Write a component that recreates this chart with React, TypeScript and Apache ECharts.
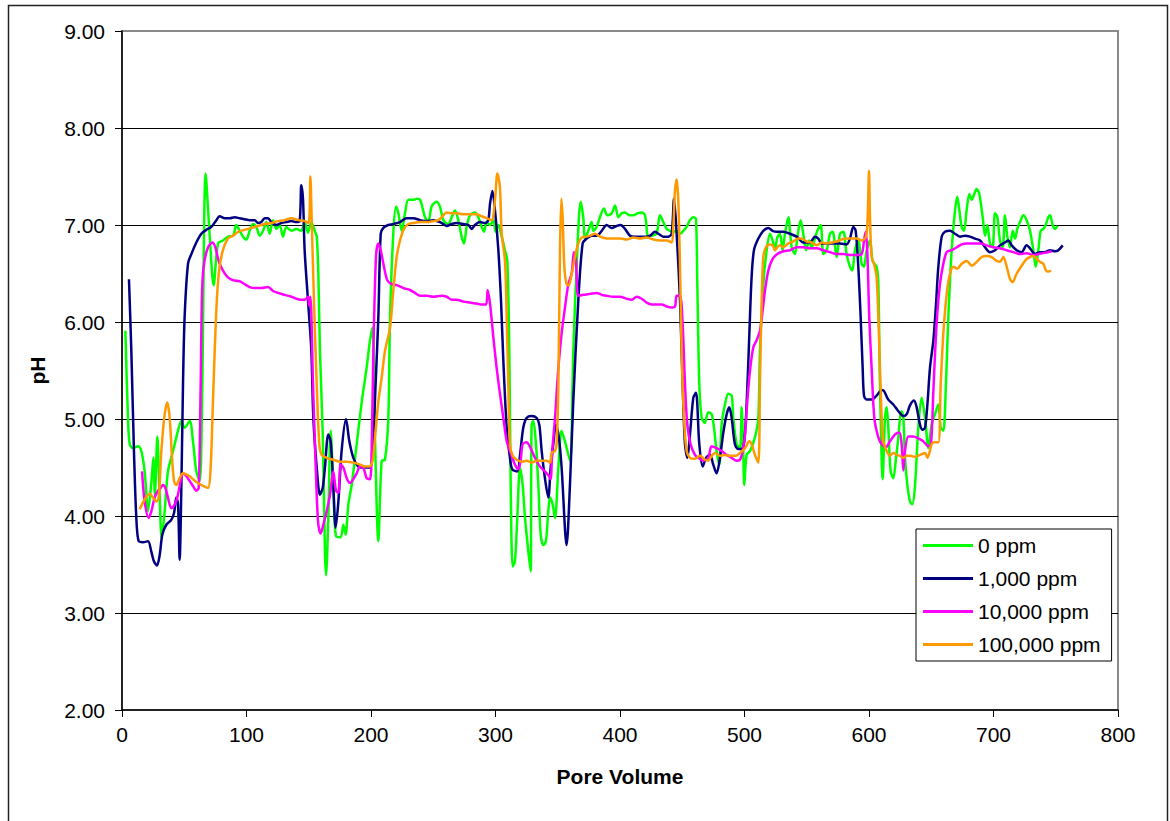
import React, { useEffect, useRef } from "react";
import * as echarts from "echarts";

const seriesNames = ["0 ppm", "1,000 ppm", "10,000 ppm", "100,000 ppm"];
const seriesColors = ["#00FF00", "#000080", "#FF00FF", "#FF9900"];
const xAxisTitle = "Pore Volume";
const yAxisTitle = "pH";

const ppm0: number[][] = [
  [2.7,5.91],[4.8,5.01],[6.2,4.74],[8.8,4.70],[12.9,4.72],[15.5,4.67],[18.2,4.46],[20.9,4.05],[23.6,4.35],[25.2,4.60],[26.4,4.22],[28.4,4.82],[30.0,4.3],[31.9,3.77],[34.3,4.05],[36.9,4.46],[41.0,4.67],[45.0,4.88],[47.7,4.98],[50.3,4.91],[54.4,4.98],[57.0,4.77],[59.7,4.46],[62.4,4.36],[64.3,5.2],[67.2,7.53],[70.4,6.9],[73.6,6.38],[77.1,6.81],[81.1,6.84],[85.1,6.88],[89.2,6.89],[91.8,7.00],[94.5,6.94],[97.2,6.88],[99.9,6.85],[102.5,6.94],[105.2,7.01],[107.9,6.98],[110.6,6.89],[113.3,6.94],[115.9,7.03],[118.6,6.91],[121.3,7.05],[124.0,6.96],[126.6,7.00],[129.3,6.88],[132.0,6.98],[136.0,6.94],[140.0,6.96],[144.0,6.94],[146.7,7.03],[149.4,6.92],[152.1,7.03],[154.8,6.94],[156.4,6.88],[157.7,6.5],[159.0,5.70],[161.2,4.86],[163.0,3.63],[163.9,3.39],[165.7,3.98],[167.6,4.88],[169.7,4.32],[171.9,3.79],[175.6,3.78],[177.8,3.91],[179.6,3.81],[181.8,4.12],[184.5,4.32],[188.5,4.74],[192.5,5.17],[196.5,5.53],[199.2,5.81],[201.3,5.94],[203.2,4.8],[205.9,3.74],[208.6,4.57],[211.2,4.58],[213.9,5.01],[215.3,6.05],[217.9,6.91],[220.1,7.19],[222.0,7.12],[224.6,6.94],[227.3,7.12],[230.0,7.26],[234.0,7.26],[236.7,7.27],[239.4,7.26],[243.4,7.08],[246.0,7.03],[248.7,7.19],[252.7,7.24],[255.4,7.19],[258.1,7.05],[262.1,7.01],[264.8,7.08],[267.5,7.15],[270.1,7.05],[272.8,6.88],[274.7,6.81],[276.8,6.98],[279.5,7.10],[283.5,7.13],[286.2,7.08],[288.9,6.98],[290.8,6.93],[292.9,7.03],[295.6,7.00],[298.3,7.05],[300.1,6.93],[302.3,7.00],[305.0,6.88],[307.6,6.74],[309.5,6.63],[311.1,5.70],[312.2,4.32],[313.8,3.48],[315.6,3.53],[317.5,3.98],[319.7,4.50],[321.8,4.32],[323.7,3.98],[326.4,3.63],[328.2,3.43],[329.0,4.94],[330.4,4.98],[332.5,4.74],[334.4,4.32],[336.3,3.81],[338.4,3.70],[340.5,3.74],[342.4,4.05],[343.8,4.19],[345.9,4.12],[347.8,3.98],[350.5,4.50],[353.1,4.88],[355.8,4.77],[359.8,4.57],[362.5,5.70],[365.7,6.74],[368.4,7.24],[370.5,7.08],[371.9,6.86],[374.6,6.94],[377.2,7.03],[378.6,6.94],[381.2,6.98],[383.9,7.08],[387.1,7.17],[389.8,7.10],[393.3,7.12],[396.0,7.20],[398.7,7.08],[401.3,7.12],[404.0,7.13],[407.5,7.10],[410.7,7.10],[413.9,7.12],[417.4,7.13],[420.1,7.10],[422.7,6.88],[425.4,6.89],[429.4,6.91],[432.1,7.10],[434.8,7.03],[437.5,6.96],[440.1,6.94],[442.8,6.93],[445.5,6.94],[448.2,6.91],[450.9,6.94],[453.5,6.98],[456.2,7.05],[458.9,7.08],[461.0,7.06],[462.1,6.39],[463.7,5.36],[465.6,5.01],[468.2,4.96],[470.9,5.07],[473.6,5.05],[475.5,4.91],[477.6,4.67],[479.8,4.53],[481.6,4.94],[484.3,5.15],[487.0,5.26],[489.7,5.24],[491.0,5.01],[493.7,4.74],[496.4,4.70],[497.7,5.12],[499.0,4.67],[499.8,4.32],[501.7,4.63],[504.4,4.67],[508.4,4.81],[511.1,5.01],[512.4,5.70],[515.1,6.39],[517.8,6.74],[520.5,6.91],[522.6,6.84],[524.5,6.74],[526.3,6.87],[528.5,6.91],[530.6,6.74],[532.5,6.91],[535.2,7.08],[537.9,6.77],[540.5,6.70],[542.4,6.87],[545.1,7.05],[547.2,6.91],[549.4,6.74],[552.0,6.84],[553.9,6.77],[556.1,6.84],[558.5,6.94],[561.2,7.00],[563.3,6.70],[566.0,6.74],[568.7,6.91],[570.8,6.93],[574.0,6.67],[576.7,6.91],[579.4,6.93],[582.0,6.70],[584.7,6.57],[586.6,6.53],[588.7,6.74],[591.4,6.84],[594.1,6.60],[596.0,6.57],[598.1,6.74],[600.8,6.84],[602.9,6.63],[606.1,6.57],[607.5,6.39],[608.8,5.36],[611.0,4.38],[612.8,5.01],[614.2,5.12],[615.5,4.91],[617.4,4.46],[619.5,4.39],[621.7,4.60],[623.6,4.81],[624.9,5.01],[626.2,5.08],[627.6,5.01],[628.9,4.60],[630.8,4.32],[632.9,4.15],[634.8,4.12],[637.0,4.32],[639.6,4.91],[642.3,5.22],[645.0,5.01],[647.7,4.70],[650.3,4.94],[653.0,5.05],[655.7,5.15],[657.6,4.91],[659.7,4.88],[661.8,5.36],[663.7,6.05],[666.4,6.74],[669.1,7.15],[670.9,7.29],[672.6,7.15],[674.4,6.98],[676.3,6.94],[678.4,7.15],[680.6,7.32],[682.5,7.26],[684.3,7.31],[686.5,7.37],[688.6,7.32],[691.3,7.08],[693.2,6.89],[695.0,7.00],[697.2,6.81],[699.3,6.77],[701.2,7.12],[703.1,7.08],[705.2,6.84],[707.4,6.77],[709.2,7.10],[711.1,6.88],[713.3,6.77],[715.4,6.94],[717.3,6.86],[719.1,6.96],[721.3,7.03],[724.0,7.10],[726.6,7.05],[729.3,6.94],[732.0,6.74],[733.9,6.57],[736.0,6.74],[737.9,6.94],[740.0,6.96],[741.9,7.00],[744.0,7.08],[745.4,7.10],[747.5,7.00],[749.4,6.96],[751.3,6.99]
];

const ppm1000: number[][] = [
  [5.6,6.44],[7.5,5.70],[9.6,4.67],[11.5,3.98],[13.4,3.74],[16.9,3.73],[20.9,3.74],[23.6,3.63],[25.7,3.53],[28.1,3.49],[30.3,3.60],[32.4,3.81],[35.6,3.91],[39.6,3.96],[41.8,4.03],[43.6,4.19],[45.0,4.12],[46.3,3.55],[47.7,4.32],[49.0,5.36],[50.3,6.05],[53.0,6.60],[55.7,6.70],[59.7,6.82],[63.7,6.91],[67.7,6.95],[71.8,6.98],[75.8,7.05],[78.4,7.09],[82.5,7.07],[86.5,7.07],[90.5,7.08],[94.5,7.07],[98.5,7.06],[102.5,7.05],[106.6,7.05],[109.2,7.02],[111.9,7.03],[114.6,7.07],[117.3,7.07],[119.9,7.03],[124.0,7.00],[128.0,7.02],[132.0,7.03],[136.0,7.04],[140.0,7.03],[142.7,7.04],[144.0,7.41],[145.4,7.26],[146.7,6.74],[149.4,6.22],[152.1,5.70],[153.7,5.01],[156.4,4.50],[159.0,4.22],[161.2,4.29],[163.0,4.50],[165.7,4.84],[167.6,4.77],[169.7,4.32],[171.6,3.88],[173.8,4.15],[176.4,4.67],[179.9,5.00],[182.6,4.77],[185.8,4.60],[189.8,4.51],[193.8,4.50],[199.2,4.50],[201.9,4.84],[203.7,5.36],[205.9,6.05],[207.8,6.91],[209.9,6.97],[213.9,7.00],[217.9,7.01],[223.3,7.03],[228.6,7.07],[234.0,7.07],[239.4,7.05],[244.7,7.04],[250.1,7.05],[255.4,7.03],[258.1,7.01],[260.8,6.99],[264.8,7.01],[268.8,7.02],[274.2,7.01],[278.2,7.00],[280.9,6.96],[283.5,7.00],[287.5,7.03],[291.6,7.02],[294.2,7.05],[295.6,7.22],[297.5,7.35],[299.6,7.15],[302.3,6.74],[304.5,6.2],[306.3,5.6],[309.0,4.91],[311.6,4.60],[313.5,4.48],[317.5,4.46],[319.7,4.63],[322.3,4.91],[325.0,5.01],[329.0,5.03],[333.1,5.01],[335.2,4.94],[337.1,4.67],[339.7,4.39],[342.4,4.19],[344.3,4.50],[346.4,4.74],[348.6,4.94],[351.0,4.8],[353.1,4.50],[357.1,3.70],[359.8,4.32],[362.5,5.19],[366.5,6.22],[370.0,6.81],[373.2,6.86],[377.2,6.89],[381.2,6.89],[385.3,6.94],[389.3,7.00],[393.3,6.97],[397.3,6.99],[400.5,7.00],[404.0,6.96],[408.0,6.89],[412.0,6.88],[416.1,6.88],[420.1,6.88],[424.1,6.89],[428.1,6.93],[430.8,6.91],[434.8,6.88],[438.8,6.88],[441.5,6.91],[443.4,7.27],[445.5,6.91],[448.2,6.22],[450.3,5.36],[452.2,4.74],[454.1,4.60],[456.2,4.84],[458.9,5.22],[461.0,5.27],[463.7,4.74],[466.4,4.51],[469.1,4.60],[472.3,4.63],[474.9,4.53],[477.6,4.44],[480.3,4.60],[483.0,4.86],[485.7,5.05],[487.8,5.12],[489.7,5.01],[492.3,4.74],[495.0,4.69],[497.7,4.69],[499.8,4.77],[501.7,5.15],[503.9,5.88],[505.7,6.46],[507.6,6.74],[511.1,6.86],[515.1,6.94],[519.1,6.97],[522.6,6.94],[525.8,6.93],[531.2,6.93],[536.5,6.91],[541.9,6.88],[547.2,6.82],[552.6,6.82],[556.6,6.88],[559.3,6.86],[562.0,6.81],[566.0,6.81],[571.3,6.81],[576.7,6.81],[582.0,6.80],[584.7,6.86],[587.4,6.98],[589.3,6.94],[591.4,6.57],[593.3,6.05],[594.9,5.53],[596.0,5.24],[598.1,5.20],[602.1,5.20],[606.1,5.24],[610.2,5.30],[612.0,5.29],[615.5,5.20],[619.5,5.15],[623.6,5.08],[627.6,5.03],[630.3,5.05],[632.9,5.14],[636.1,5.19],[638.3,5.12],[641.0,4.94],[643.1,4.89],[645.0,4.91],[646.9,5.15],[649.0,5.53],[651.7,5.81],[653.8,6.18],[655.7,6.57],[658.4,6.88],[661.0,6.93],[665.1,6.94],[669.1,6.91],[673.1,6.88],[677.1,6.89],[681.1,6.88],[685.1,6.86],[689.2,6.84],[693.2,6.77],[697.2,6.72],[701.2,6.74],[705.2,6.79],[709.2,6.82],[711.9,6.84],[714.6,6.79],[718.6,6.74],[722.6,6.72],[726.6,6.79],[729.3,6.76],[733.3,6.70],[737.3,6.72],[741.4,6.72],[745.4,6.74],[749.4,6.73],[752.1,6.74],[755.6,6.79]
];

const ppm10000: number[][] = [
  [16.1,4.46],[18.2,4.15],[21.4,3.98],[23.6,4.05],[26.2,4.19],[28.9,4.26],[31.1,4.29],[32.9,4.32],[34.8,4.29],[36.9,4.19],[39.6,4.08],[42.3,4.12],[44.4,4.19],[47.1,4.36],[49.0,4.44],[51.7,4.41],[54.4,4.36],[57.0,4.31],[59.7,4.26],[61.6,4.29],[63.2,5.36],[64.3,6.32],[65.9,6.60],[69.1,6.77],[72.6,6.82],[75.0,6.77],[77.6,6.63],[81.1,6.53],[85.1,6.46],[89.2,6.43],[94.5,6.42],[98.5,6.39],[102.5,6.36],[106.6,6.35],[111.9,6.35],[117.3,6.36],[121.3,6.32],[125.3,6.30],[130.7,6.28],[136.0,6.26],[140.0,6.24],[143.5,6.23],[146.7,6.23],[149.4,6.26],[150.2,6.17],[151.3,6.26],[153.4,5.36],[156.1,4.32],[157.7,3.91],[159.6,3.82],[161.7,3.91],[164.4,4.05],[167.1,4.22],[169.7,4.46],[171.9,4.26],[173.8,4.24],[175.6,4.53],[177.8,4.50],[180.5,4.39],[183.1,4.34],[185.8,4.38],[188.5,4.44],[191.2,4.51],[193.8,4.50],[196.5,4.39],[199.2,4.38],[200.5,4.67],[201.9,5.70],[204.0,6.67],[205.9,6.81],[207.8,6.74],[210.4,6.57],[213.1,6.43],[216.6,6.39],[220.6,6.38],[226.0,6.35],[231.3,6.33],[235.3,6.30],[239.4,6.27],[244.7,6.27],[250.1,6.26],[256.8,6.27],[260.8,6.26],[264.8,6.23],[268.8,6.23],[274.2,6.21],[279.5,6.20],[284.9,6.19],[288.9,6.18],[292.4,6.18],[293.7,6.33],[295.6,6.19],[298.3,5.84],[300.9,5.53],[303.6,5.26],[306.3,5.01],[309.0,4.77],[311.6,4.67],[315.6,4.53],[318.3,4.48],[320.2,4.57],[321.8,4.74],[325.0,4.76],[328.2,4.70],[331.7,4.60],[335.7,4.51],[339.7,4.46],[343.2,4.41],[344.3,4.38],[345.6,4.67],[347.8,5.01],[350.5,5.53],[353.1,5.88],[355.8,6.15],[358.5,6.39],[361.2,6.50],[363.0,6.72],[364.6,6.63],[366.5,6.27],[370.5,6.28],[375.9,6.29],[381.2,6.30],[385.3,6.28],[389.3,6.27],[394.6,6.26],[400.0,6.26],[405.3,6.24],[409.4,6.23],[413.4,6.26],[417.4,6.24],[421.4,6.20],[425.4,6.18],[429.4,6.18],[433.5,6.18],[437.5,6.16],[441.5,6.15],[444.2,6.16],[445.5,6.27],[448.2,6.27],[450.3,5.98],[452.2,5.36],[454.1,4.94],[456.7,4.74],[460.2,4.63],[462.9,4.60],[466.9,4.57],[470.9,4.60],[473.6,4.72],[477.6,4.70],[481.6,4.67],[485.7,4.63],[489.7,4.60],[493.7,4.57],[496.4,4.58],[498.5,4.67],[500.4,4.84],[502.3,5.19],[504.4,5.50],[507.1,5.74],[509.7,5.81],[512.4,5.91],[514.6,6.12],[516.4,6.32],[519.1,6.53],[522.6,6.65],[526.3,6.70],[531.2,6.73],[536.5,6.74],[541.9,6.77],[547.2,6.77],[552.6,6.76],[557.9,6.76],[563.3,6.74],[568.7,6.72],[574.0,6.70],[579.4,6.70],[584.7,6.69],[590.1,6.69],[594.1,6.70],[596.0,6.84],[597.3,6.93],[598.6,6.74],[600.2,6.05],[602.1,5.53],[604.3,5.01],[607.5,4.81],[610.2,4.74],[613.6,4.71],[616.8,4.77],[620.9,4.84],[624.4,4.86],[626.2,4.74],[627.6,4.47],[628.9,4.67],[631.6,4.82],[635.6,4.82],[639.6,4.80],[643.6,4.77],[647.7,4.72],[649.8,4.74],[651.7,5.29],[654.3,5.98],[657.0,6.39],[659.7,6.60],[662.4,6.72],[666.4,6.74],[670.4,6.77],[674.4,6.80],[678.4,6.81],[683.8,6.81],[689.2,6.81],[694.5,6.79],[699.9,6.77],[705.2,6.76],[710.6,6.74],[715.9,6.72],[721.3,6.70],[726.6,6.71],[732.0,6.69],[736.0,6.70],[740.0,6.71],[746.7,6.73]
];

const ppm100000: number[][] = [
  [14.2,4.07],[18.2,4.17],[22.2,4.23],[24.9,4.19],[27.6,4.15],[29.5,4.19],[31.6,4.67],[34.3,5.05],[36.4,5.17],[38.3,5.01],[40.2,4.60],[41.8,4.36],[43.6,4.32],[46.3,4.39],[49.0,4.44],[51.7,4.43],[54.4,4.41],[57.0,4.38],[61.0,4.34],[65.1,4.31],[69.1,4.29],[71.2,4.50],[73.1,5.20],[75.0,5.89],[76.6,6.32],[78.4,6.57],[81.1,6.74],[85.1,6.86],[89.2,6.89],[93.2,6.93],[98.5,6.95],[103.9,6.97],[109.2,6.99],[114.6,7.01],[120.0,7.02],[125.3,7.04],[130.7,7.05],[136.0,7.07],[141.4,7.05],[146.7,7.04],[149.9,7.02],[151.3,7.50],[152.3,7.08],[154.2,6.22],[156.4,5.36],[158.5,4.74],[160.4,4.63],[164.4,4.60],[169.7,4.58],[175.1,4.56],[180.5,4.56],[185.8,4.55],[191.2,4.53],[195.2,4.51],[198.7,4.51],[201.3,4.57],[203.2,4.81],[205.9,5.18],[208.6,5.43],[211.2,5.70],[215.3,5.94],[217.9,6.32],[220.6,6.67],[223.3,6.84],[226.5,6.96],[230.0,7.01],[234.0,7.02],[239.4,7.03],[244.7,7.03],[250.1,7.04],[254.1,7.05],[258.1,7.10],[260.8,7.13],[264.8,7.12],[268.8,7.12],[274.2,7.11],[279.5,7.11],[284.9,7.11],[288.9,7.09],[292.9,7.07],[296.9,7.05],[299.6,7.26],[301.5,7.53],[303.5,7.40],[305.0,6.91],[307.6,6.63],[309.0,6.05],[310.3,5.36],[311.6,4.74],[313.8,4.62],[317.0,4.58],[321.0,4.56],[325.0,4.57],[329.0,4.55],[333.1,4.57],[337.1,4.57],[341.1,4.57],[343.8,4.55],[345.1,4.65],[347.8,4.67],[349.1,4.74],[350.5,5.36],[351.8,6.74],[352.9,7.27],[353.9,7.08],[355.3,6.57],[357.1,6.39],[359.0,6.38],[361.2,6.50],[363.8,6.67],[366.5,6.81],[369.2,6.87],[372.7,6.88],[375.9,6.89],[379.9,6.91],[383.9,6.88],[389.3,6.86],[394.6,6.86],[400.0,6.86],[405.3,6.85],[410.7,6.87],[416.1,6.86],[421.4,6.87],[426.8,6.85],[432.1,6.84],[437.5,6.84],[441.5,6.82],[442.8,6.98],[444.2,7.36],[445.5,7.47],[446.8,7.26],[448.2,6.57],[449.5,5.70],[451.4,5.01],[453.5,4.67],[456.2,4.60],[460.2,4.59],[464.2,4.62],[468.2,4.58],[470.9,4.57],[473.6,4.62],[476.3,4.65],[480.3,4.62],[484.3,4.63],[488.3,4.62],[492.3,4.62],[496.4,4.65],[500.4,4.70],[503.9,4.77],[505.7,4.74],[508.4,4.63],[511.1,4.55],[512.4,5.36],[513.8,6.22],[515.1,6.67],[517.2,6.77],[519.9,6.80],[522.6,6.79],[524.5,6.74],[526.3,6.77],[528.5,6.79],[531.2,6.77],[535.2,6.81],[539.2,6.83],[543.2,6.86],[545.9,6.86],[549.9,6.83],[553.9,6.82],[557.9,6.79],[562.0,6.82],[566.0,6.81],[570.0,6.82],[574.0,6.83],[578.0,6.85],[582.0,6.86],[586.1,6.86],[590.1,6.86],[594.1,6.84],[597.6,6.88],[598.9,7.08],[600.0,7.56],[600.8,7.08],[602.1,6.67],[604.0,6.60],[606.1,6.46],[607.5,6.05],[608.8,5.53],[610.2,5.01],[611.5,4.77],[614.2,4.67],[616.8,4.62],[619.5,4.65],[622.2,4.63],[624.9,4.62],[627.6,4.60],[630.3,4.62],[632.9,4.62],[637.0,4.61],[641.0,4.63],[645.0,4.65],[646.9,4.60],[648.5,4.65],[650.3,4.74],[652.2,4.76],[655.7,4.76],[657.6,5.36],[659.7,5.88],[662.4,6.29],[665.1,6.50],[667.7,6.57],[670.9,6.55],[674.4,6.60],[678.4,6.63],[682.5,6.58],[686.5,6.62],[690.5,6.67],[694.5,6.68],[698.5,6.67],[702.5,6.63],[705.2,6.62],[707.9,6.67],[710.6,6.57],[713.3,6.44],[715.4,6.41],[718.6,6.50],[722.6,6.58],[726.6,6.65],[729.3,6.67],[732.0,6.68],[734.7,6.65],[737.3,6.62],[740.0,6.60],[742.2,6.53],[744.0,6.52],[746.2,6.53]
];

const seriesData = [ppm0, ppm1000, ppm10000, ppm100000];
const FONT = "'Liberation Sans', Arial, sans-serif";

export default function App() {
  const ref = useRef<HTMLDivElement>(null);
  useEffect(() => {
    if (!ref.current) return;
    const chart = echarts.init(ref.current, undefined, { renderer: "svg" });
    chart.setOption({
      animation: false,
      backgroundColor: "#ffffff",
      grid: {
        left: 122, top: 31, right: 52, bottom: 111,
        show: true, borderColor: "#8a8a8a", borderWidth: 2, backgroundColor: "transparent",
      },
      xAxis: {
        type: "value", min: 0, max: 800, interval: 100,
        name: xAxisTitle, nameLocation: "middle", nameGap: 56,
        nameTextStyle: { fontFamily: FONT, fontSize: 21, fontWeight: "bold", color: "#000" },
        axisLine: { onZero: false, lineStyle: { color: "#000", width: 1.5 } },
        axisTick: { show: true, length: 7, lineStyle: { color: "#000", width: 1 } },
        axisLabel: { margin: 14, fontSize: 21, color: "#000", fontFamily: FONT },
        splitLine: { show: false },
      },
      yAxis: {
        type: "value", min: 2, max: 9, interval: 1,
        name: yAxisTitle, nameLocation: "middle", nameGap: 74, nameRotate: 90,
        nameTextStyle: { fontFamily: FONT, fontSize: 21, fontWeight: "bold", color: "#000" },
        axisLine: { show: true, onZero: false, lineStyle: { color: "#000", width: 1.5 } },
        axisTick: { show: true, length: 7, lineStyle: { color: "#000", width: 1 } },
        axisLabel: { margin: 17, fontSize: 21, color: "#000", fontFamily: FONT, formatter: (v: number) => v.toFixed(2) },
        splitLine: { show: true, showMinLine: false, showMaxLine: false, lineStyle: { color: "#000", width: 1 } },
      },
      legend: {
        orient: "vertical", left: 916, top: 529,
        icon: "rect", itemWidth: 50, itemHeight: 3, itemGap: 12,
        padding: [6, 11, 6, 7],
        borderColor: "#000", borderWidth: 1, backgroundColor: "#fff",
        textStyle: { fontSize: 21, lineHeight: 21, color: "#000", fontFamily: FONT },
        data: seriesNames,
      },
      graphic: [
        {
          type: "rect", silent: true, z: -1,
          shape: { x: 8.5, y: 5.5, width: 1159, height: 840 },
          style: { fill: "none", stroke: "#222", lineWidth: 1.5 },
        },
      ],
      series: seriesNames.map((name, i) => ({
        type: "line", name, data: seriesData[i],
        symbol: "none", showSymbol: false, smooth: 0.3,
        lineStyle: { width: 2.5, color: seriesColors[i] },
        itemStyle: { color: seriesColors[i] },
      })),
    });
    return () => chart.dispose();
  }, []);
  return (
    <div
      ref={ref}
      style={{ position: "fixed", left: 0, top: 0, width: 1170, height: 821, background: "#fff" }}
    />
  );
}
